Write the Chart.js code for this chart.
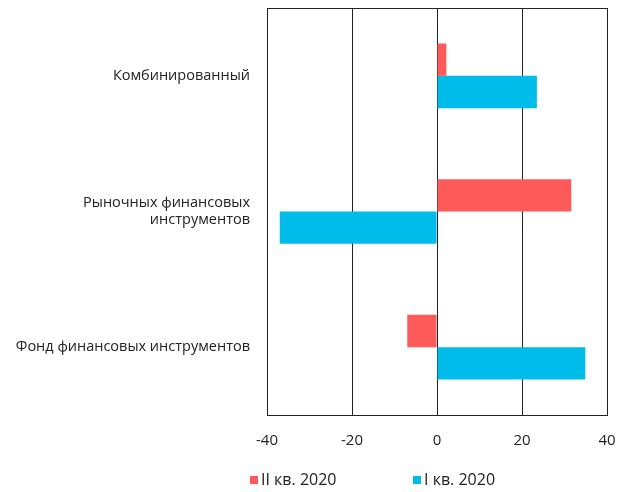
<!DOCTYPE html>
<html>
<head>
<meta charset="utf-8">
<script src="https://cdn.jsdelivr.net/npm/chart.js@4.4.1/dist/chart.umd.min.js"></script>
<style>
    body { margin: 0; background: #fff; }
    #wrap { position: relative; width: 626px; height: 492px; }
    #legend { position: absolute; top: 468px; left: 0; width: 626px; height: 22px;
        font-family: "Open Sans", sans-serif; font-size: 16px; color: #222; }
    .item { position: absolute; top: 0; white-space: nowrap; }
    .box { display: inline-block; width: 8px; height: 8px; margin-right: 3px; vertical-align: 1px; }
</style>
</head>
<body>
<div id="wrap">
    <canvas id="grafico" width="626" height="492"></canvas>
    <div id="legend"></div>
</div>
<script>
// datos
const categorias = ["Комбинированный", ["Рыночных финансовых", "инструментов"], "Фонд финансовых инструментов"];
const serieNombres = ["II кв. 2020", "I кв. 2020"];
const valoresII = [2.2, 31.6, -7.0];
const valoresI = [23.5, -37.0, 34.9];
const ticksX = [-40, -20, 0, 20, 40];
const colores = ["#FF5A5A", "#00BCEB"];

// marco del área del gráfico
const marco = {
    id: "marco",
    afterDraw(c) {
        const a = c.chartArea;
        const ctx = c.ctx;
        ctx.save();
        ctx.strokeStyle = "#222";
        ctx.lineWidth = 1;
        ctx.beginPath();
        ctx.moveTo(a.left, Math.round(a.top) + 0.5);
        ctx.lineTo(a.right, Math.round(a.top) + 0.5);
        ctx.stroke();
        ctx.restore();
    }
};

const ctx = document.getElementById("grafico");

let chart = new Chart(ctx, {
    type: "bar",
    data: {
        labels: categorias,
        datasets: [{
            label: serieNombres[0],
            data: valoresII,
            backgroundColor: colores[0]
        }, {
            label: serieNombres[1],
            data: valoresI,
            backgroundColor: colores[1]
        }]
    },
    options: {
        indexAxis: "y",
        responsive: false,
        animation: false,
        layout: {
            padding: { top: 8, right: 19, bottom: 25, left: 0 }
        },
        datasets: {
            bar: {
                barPercentage: 1,
                categoryPercentage: 0.477
            }
        },
        plugins: {
            legend: { display: false },
            tooltip: { enabled: false }
        },
        scales: {
            x: {
                min: ticksX[0],
                max: ticksX[ticksX.length - 1],
                afterBuildTicks: axis => {
                    axis.ticks = ticksX.map(v => ({ value: v }));
                },
                afterFit: axis => {
                    axis.paddingLeft = 0;
                    axis.paddingRight = 0;
                },
                grid: {
                    color: "#222",
                    drawTicks: false
                },
                border: { color: "#222" },
                ticks: {
                    padding: 17,
                    color: "#222",
                    font: { family: "Open Sans", size: 15 }
                }
            },
            y: {
                afterFit: axis => {
                    axis.width = 267;
                    axis.paddingTop = 0;
                    axis.paddingBottom = 0;
                },
                grid: { display: false, drawTicks: false },
                border: { display: false },
                ticks: {
                    padding: 17,
                    color: "#222",
                    font: { family: "Open Sans", size: 14.5 }
                }
            }
        }
    },
    plugins: [marco]
});

// leyenda
const leyenda = document.getElementById("legend");
const posiciones = [250, 413];
serieNombres.forEach((nombre, i) => {
    const it = document.createElement("span");
    it.className = "item";
    it.style.left = posiciones[i] + "px";
    it.innerHTML = '<span class="box" style="background:' + colores[i] + '"></span>' + nombre;
    leyenda.appendChild(it);
});
</script>
</body>
</html>
